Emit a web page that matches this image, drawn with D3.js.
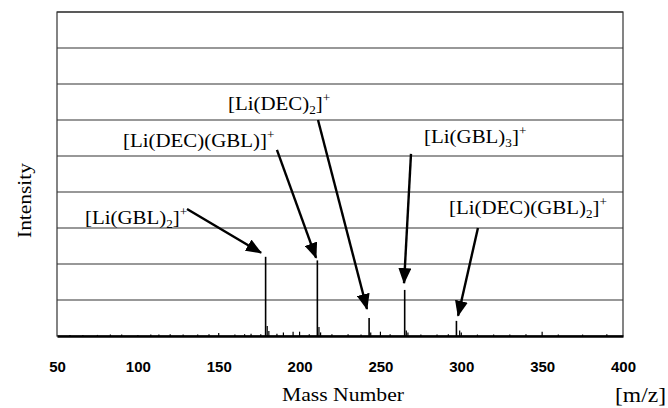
<!DOCTYPE html>
<html>
<head>
<meta charset="utf-8">
<script src="https://cdn.jsdelivr.net/npm/d3@7"></script>
<style>
  body { margin: 0; background: #fff; }
  #chart { width: 668px; height: 408px; }
  .tick-label { font-family: "Liberation Sans", Arial, sans-serif; font-size: 15px; }
  .axis-title { font-family: "Liberation Serif", "Times New Roman", serif; font-size: 18px; }
  .note { font-family: "Liberation Serif", "Times New Roman", serif; font-size: 19px; }
</style>
</head>
<body>
<div id="chart"></div>
<script>
// main peaks (m/z, relative intensity in grid units)
const peakMz = [179, 211, 243, 265, 297];
const peakIntensity = [2.2, 2.1, 0.5, 1.28, 0.42];
// label pieces: [text, sub, text, sup]
const peakLabels = [
  ["[Li(GBL)", "2", "]", "+"],
  ["[Li(DEC)(GBL)]", "", "", "+"],
  ["[Li(DEC)", "2", "]", "+"],
  ["[Li(GBL)", "3", "]", "+"],
  ["[Li(DEC)(GBL)", "2", "]", "+"]
];

// small background peaks
const minorMz = [58, 66, 75, 83, 90, 100, 108, 113, 120, 128, 137, 144, 150, 160, 166, 170, 176, 180, 181, 186, 190, 196, 200, 206, 212, 213, 220, 230, 238, 244, 250, 256, 266, 267, 275, 285, 292, 299, 300, 310, 320, 330, 340, 350, 360, 375, 390];
const minorIntensity = [0.03, 0.03, 0.03, 0.04, 0.04, 0.03, 0.04, 0.04, 0.05, 0.04, 0.04, 0.05, 0.08, 0.04, 0.05, 0.06, 0.05, 0.28, 0.14, 0.06, 0.1, 0.12, 0.12, 0.05, 0.25, 0.1, 0.05, 0.05, 0.04, 0.1, 0.12, 0.05, 0.15, 0.1, 0.04, 0.04, 0.05, 0.15, 0.1, 0.04, 0.04, 0.04, 0.05, 0.12, 0.04, 0.04, 0.05];

const xTicks = [50, 100, 150, 200, 250, 300, 350, 400];
const gridValues = [1, 2, 3, 4, 5, 6, 7, 8, 9];

// annotation layout in data units: text start, arrow start, arrow tip
const labelPos = [
  { tx: 67.3, ty: 3.1, ax: 130.4, ay: 3.53, bx: 176.2, by: 2.31 },
  { tx: 90.8, ty: 5.25, ax: 186.0, ay: 5.17, bx: 210.2, by: 2.17 },
  { tx: 155.7, ty: 6.28, ax: 211.4, ay: 6.0, bx: 241.7, by: 0.75 },
  { tx: 277.0, ty: 5.36, ax: 268.9, ay: 5.06, bx: 264.6, by: 1.47 },
  { tx: 292.4, ty: 3.39, ax: 310.3, ay: 3.0, bx: 298.0, by: 0.56 }
];

const width = 668;
const height = 408;
const marginTop = 12;
const marginLeft = 57;
const marginRight = 45;
const marginBottom = 72;
const chartWidth = width - marginLeft - marginRight;
const chartHeight = height - marginTop - marginBottom;

const xScale = d3.scaleLinear().domain([50, 400]).range([0, chartWidth]);
const yScale = d3.scaleLinear().domain([0, 9]).range([chartHeight, 0]);

const svg = d3.select("#chart").append("svg")
  .attr("width", width)
  .attr("height", height);

const defs = svg.append("defs");
defs.append("marker")
  .attr("id", "head")
  .attr("markerUnits", "userSpaceOnUse")
  .attr("viewBox", "0 0 16 13")
  .attr("refX", 15)
  .attr("refY", 6.5)
  .attr("markerWidth", 16)
  .attr("markerHeight", 13)
  .attr("orient", "auto")
  .append("path")
  .attr("d", "M0,0 L16,6.5 L0,13 Z")
  .attr("fill", "#000");

const g = svg.append("g").attr("transform", `translate(${marginLeft}, ${marginTop})`);

// grid lines
g.append("g")
  .selectAll("line")
  .data(gridValues)
  .join("line")
  .attr("x1", 0)
  .attr("x2", chartWidth)
  .attr("y1", (d) => yScale(d))
  .attr("y2", (d) => yScale(d))
  .attr("stroke", "#333")
  .attr("stroke-width", 1.2);

// frame
g.append("rect")
  .attr("x", 0)
  .attr("y", 0)
  .attr("width", chartWidth)
  .attr("height", chartHeight)
  .attr("fill", "none")
  .attr("stroke", "#333")
  .attr("stroke-width", 1.2);

// x axis
const xaxis = d3.axisBottom(xScale).tickValues(xTicks).tickSize(0).tickPadding(25);
const xg = g.append("g").attr("transform", `translate(0, ${chartHeight})`).call(xaxis);
xg.select(".domain").attr("stroke", "#000").attr("stroke-width", 2.4);
xg.selectAll("text").attr("class", "tick-label").attr("fill", "#000").style("font-weight", "bold");

// minor peaks
g.append("g")
  .selectAll("line")
  .data(minorMz.map((m, i) => ({ m, v: minorIntensity[i] })))
  .join("line")
  .attr("x1", (d) => xScale(d.m))
  .attr("x2", (d) => xScale(d.m))
  .attr("y1", yScale(0))
  .attr("y2", (d) => yScale(d.v))
  .attr("stroke", "#000")
  .attr("stroke-width", 1.2);

// main peaks
g.append("g")
  .selectAll("line")
  .data(peakMz.map((m, i) => ({ m, v: peakIntensity[i] })))
  .join("line")
  .attr("x1", (d) => xScale(d.m))
  .attr("x2", (d) => xScale(d.m))
  .attr("y1", yScale(0))
  .attr("y2", (d) => yScale(d.v))
  .attr("stroke", "#000")
  .attr("stroke-width", 1.6);

// arrows
g.append("g")
  .selectAll("line")
  .data(labelPos)
  .join("line")
  .attr("x1", (d) => xScale(d.ax))
  .attr("y1", (d) => yScale(d.ay))
  .attr("x2", (d) => xScale(d.bx))
  .attr("y2", (d) => yScale(d.by))
  .attr("stroke", "#000")
  .attr("stroke-width", 2.4)
  .attr("marker-end", "url(#head)");

// labels (slightly widened like the source scan)
labelPos.forEach((p, i) => {
  const parts = peakLabels[i];
  const t = g.append("text")
    .attr("class", "note")
    .attr("transform", `translate(${xScale(p.tx)}, ${yScale(p.ty)}) scale(1.1, 1)`);
  t.append("tspan").text(parts[0]);
  if (parts[1]) {
    t.append("tspan").attr("dy", 4).style("font-size", "12px").text(parts[1]);
    t.append("tspan").attr("dy", -4).text(parts[2]);
  } else {
    t.append("tspan").text(parts[2]);
  }
  t.append("tspan").attr("dy", -8).style("font-size", "12px").text(parts[3]);
});

// axis titles
svg.append("text")
  .attr("class", "axis-title")
  .attr("x", 282)
  .attr("y", 401)
  .attr("textLength", 122)
  .attr("lengthAdjust", "spacingAndGlyphs")
  .text("Mass Number");

svg.append("text")
  .attr("class", "axis-title")
  .attr("x", 615)
  .attr("y", 402)
  .attr("textLength", 51)
  .attr("lengthAdjust", "spacingAndGlyphs")
  .style("font-size", "21px")
  .text("[m/z]");

svg.append("text")
  .attr("class", "axis-title")
  .attr("textLength", 75)
  .attr("lengthAdjust", "spacingAndGlyphs")
  .attr("transform", "translate(31, 238) rotate(-90)")
  .text("Intensity");
</script>
</body>
</html>
